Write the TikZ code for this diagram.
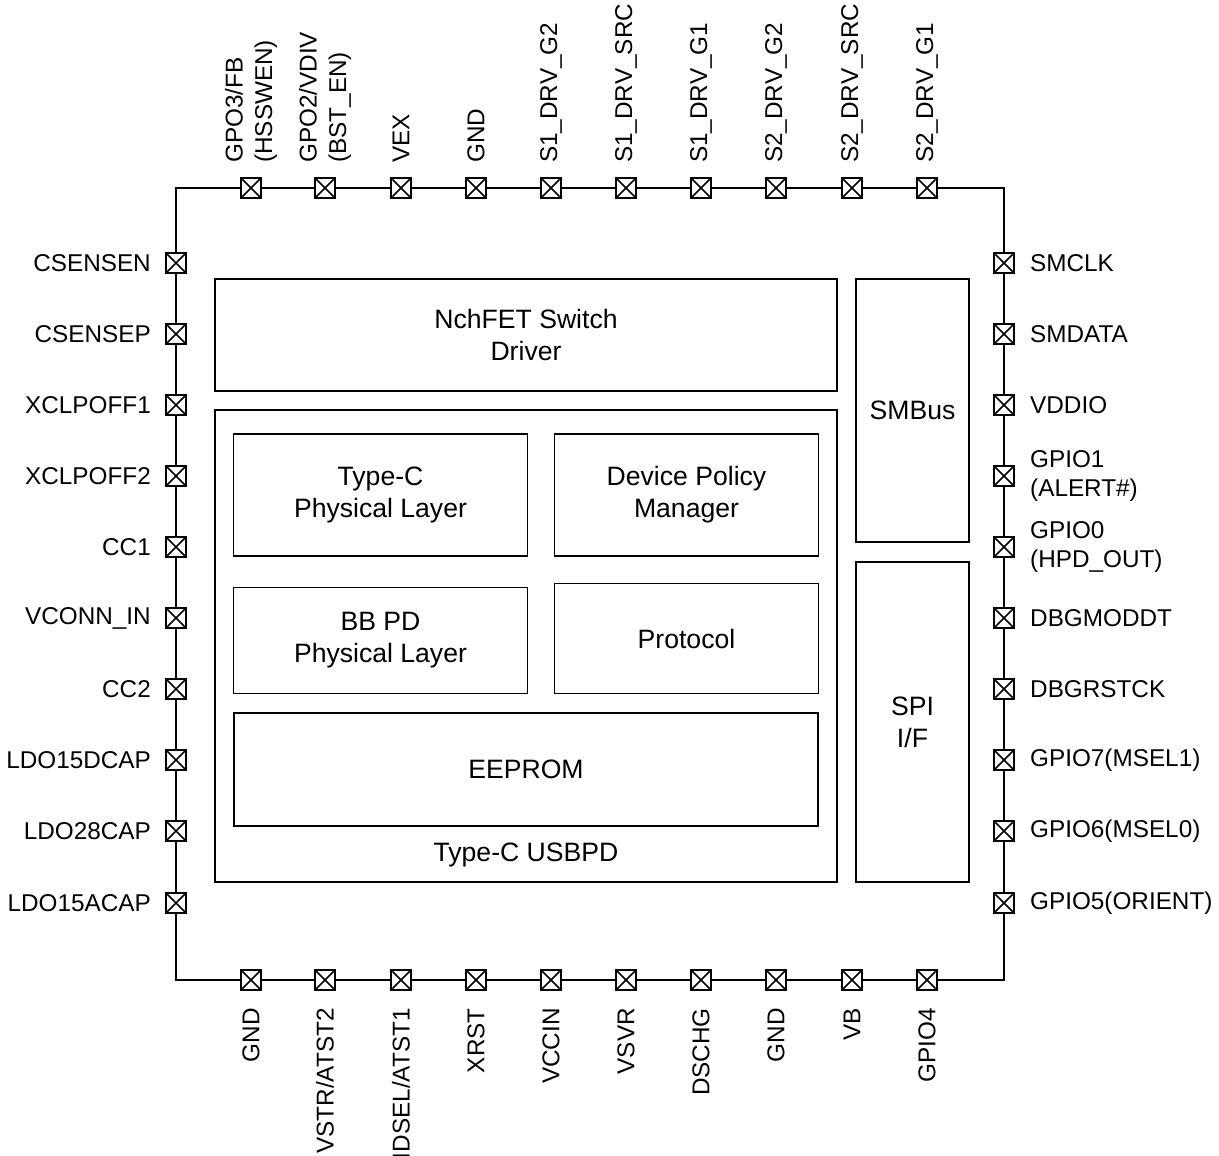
\documentclass[tikz,border=0pt]{standalone}
\usepackage{fontspec}
\setmainfont{Liberation Sans}
\begin{document}
\begin{tikzpicture}[x=1pt,y=-1pt,
  pinbox/.style={draw, fill=white, line width=1.6pt, minimum size=20pt, inner sep=0pt,
    path picture={\draw[line width=1.5pt] (path picture bounding box.south west) -- (path picture bounding box.north east)
      (path picture bounding box.north west) -- (path picture bounding box.south east);}},
  pinlbl/.style={inner sep=0pt, font=\fontsize{24.3}{29.5}\selectfont},
  blk/.style={draw, line width=1.7pt, inner sep=0pt, align=center, font=\fontsize{26.6}{32}\selectfont},
  blklbl/.style={inner sep=0pt, align=center, font=\fontsize{26.6}{32}\selectfont}]
\useasboundingbox (0,0) rectangle (1219,1156);
% chip outline
\draw[line width=1.7pt] (176,188) rectangle (1004,980);
% internal blocks
\node[blk, minimum width=622pt, minimum height=112pt] (nch) at (526,335) {NchFET Switch\\Driver};
\node[blk, minimum width=622pt, minimum height=472pt] (usbpd) at (526,646) {};
\node[blklbl] (usbpdlbl) at (526,855) {Type-C USBPD};
\node[blk, minimum width=294pt, minimum height=122pt] (tcpl) at (380.5,495) {Type-C\\Physical Layer};
\node[blk, minimum width=264pt, minimum height=122pt] (dpm) at (686.5,495) {Device Policy\\Manager};
\node[blk, minimum width=294pt, minimum height=106pt] (bbpd) at (380.5,640.5) {BB PD\\Physical Layer};
\node[blk, minimum width=264pt, minimum height=110pt] (proto) at (686.5,638.5) {Protocol};
\node[blk, minimum width=584pt, minimum height=113pt] (eeprom) at (526,769.5) {EEPROM};
\node[blk, minimum width=113pt, minimum height=263pt] (smbus) at (912.5,410.5) {SMBus};
\node[blk, minimum width=113pt, minimum height=320pt] (spi) at (912.5,722) {SPI\\I/F};
% top pins
\foreach \x/\t [count=\i] in {251/{GPO3/FB\\(HSSWEN)},325/{GPO2/VDIV\\(BST\_EN)},401/VEX,476/GND,551/S1\_DRV\_G2,626/S1\_DRV\_SRC,701/S1\_DRV\_G1,776/S2\_DRV\_G2,852/S2\_DRV\_SRC,927/S2\_DRV\_G1}{
  \node[pinbox] (t\i) at (\x,188) {};
  \node[pinlbl, rotate=90, anchor=west, align=left] (tl\i) at (\x,163) {\t};
}
% bottom pins
\foreach \x/\t [count=\i] in {251/GND,325/{VSTR/ATST2},401/{IDSEL/ATST1},476/XRST,551/VCCIN,626/VSVR,701/DSCHG,776/GND,852/VB,927/GPIO4}{
  \node[pinbox] (b\i) at (\x,980) {};
  \node[pinlbl, rotate=90, anchor=east] (bl\i) at (\x,1008) {\t};
}
% left pins
\foreach \y/\t [count=\i] in {263/CSENSEN,334/CSENSEP,405/XCLPOFF1,476/XCLPOFF2,547/CC1,618/VCONN\_IN,689/CC2,760/LDO15DCAP,831/LDO28CAP,903/LDO15ACAP}{
  \node[pinbox] (l\i) at (176,\y) {};
  \node[pinlbl, anchor=east] (ll\i) at (151,\y) {\t};
}
% right pins
\foreach \y/\t [count=\i] in {263/SMCLK,334/SMDATA,405/VDDIO,476/{GPIO1\\(ALERT\#)},547/{GPIO0\\(HPD\_OUT)},618/DBGMODDT,689/DBGRSTCK,760/GPIO7(MSEL1),831/GPIO6(MSEL0),903/GPIO5(ORIENT)}{
  \node[pinbox] (r\i) at (1004,\y) {};
  \node[pinlbl, anchor=west, align=left] (rl\i) at (1030,\y) {\t};
}
\end{tikzpicture}
\end{document}
